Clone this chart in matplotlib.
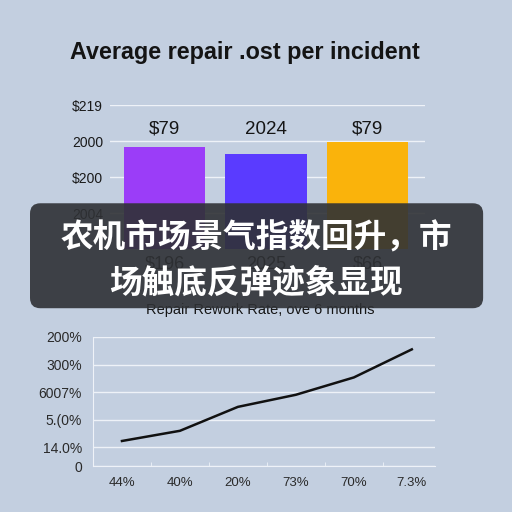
import matplotlib.pyplot as plt
from matplotlib.patches import FancyBboxPatch

# top bar chart
bar_labels = ["$196", "2025", "$66"]
bar_values = [2.83, 2.64, 2.97]
bar_value_text = ["$79", "2024", "$79"]
bar_colors = ["#9b3df8", "#5a3bff", "#fab30b"]
bar_yticks = [1, 2, 3, 4]
bar_yticklabels = ["2004", "$200", "2000", "$219"]

# bottom line chart
line_xlabels = ["44%", "40%", "20%", "73%", "70%", "7.3%"]
line_values = [1.22, 1.59, 2.46, 2.90, 3.53, 4.55]
line_yticks = [0.31, 1, 2, 3, 4, 5]
line_yticklabels = ["0", "14.0%", "5.(0%", "6007%", "300%", "200%"]

bg = "#c3cfe0"
plt.rcParams['font.family'] = ['Liberation Sans', 'DejaVu Sans']

fig = plt.figure(figsize=(5.12, 5.12), dpi=100, facecolor=bg)

fig.text(0.478, 0.897, "Average repair .ost per incident", ha="center", va="center",
         fontsize=16.8, fontweight="bold", color="#141414")

# ---- bar chart
ax1 = fig.add_axes([0.215, 0.5137, 0.615, 0.281], facecolor=bg)
xs = range(len(bar_values))
ax1.bar(xs, bar_values, width=0.8, color=bar_colors, zorder=2)
for x, t in zip(xs, bar_value_text):
    ax1.text(x, 3.33, t, ha="center", va="center", fontsize=13.5, color="#151515")
ax1.set_xlim(-0.537, 2.566)
ax1.set_ylim(0, 4)
ax1.set_yticks(bar_yticks)
ax1.set_yticklabels(bar_yticklabels, fontsize=10, color="#1a1a1a")
ax1.set_xticks(list(xs))
ax1.set_xticklabels(bar_labels, fontsize=13, color="#1a1a1a")
ax1.grid(axis="y", color="#eef2f8", linewidth=1, zorder=0)
ax1.tick_params(length=0, pad=5)
for s in ax1.spines.values():
    s.set_visible(False)

fig.text(0.508, 1 - 310 / 512, "Repair Rework Rate, ove 6 months", ha="center", va="center",
         fontsize=10.5, color="#151515")

# ---- line chart
ax2 = fig.add_axes([0.1816, 0.0898, 0.668, 0.252], facecolor=bg)
ax2.plot(range(len(line_values)), line_values, color="#111111", linewidth=1.8)
ax2.set_xlim(-0.5, 5.4)
ax2.set_ylim(0.31, 5)
ax2.set_yticks(line_yticks)
ax2.set_yticklabels(line_yticklabels, fontsize=10, color="#2a2a2a")
ax2.set_xticks(range(len(line_xlabels)))
ax2.set_xticklabels(line_xlabels, fontsize=9.5, color="#2a2a2a")
ax2.set_xticks([0.5, 1.5, 2.5, 3.5, 4.5], minor=True)
ax2.tick_params(axis="both", which="major", length=0, pad=8)
ax2.tick_params(axis="x", which="minor", direction="in", length=3, color="#eef2f8")
ax2.grid(axis="y", color="#eef2f8", linewidth=1)
for side in ["top", "right"]:
    ax2.spines[side].set_visible(False)
for side in ["left", "bottom"]:
    ax2.spines[side].set_color("#eef2f8")

# ---- caption overlay
box = FancyBboxPatch((0.0586, 0.398), 0.885, 0.205, boxstyle="round,pad=0,rounding_size=0.02",
                     transform=fig.transFigure, facecolor="#2f3135", alpha=0.9,
                     edgecolor="none", zorder=10)
fig.patches.append(box)
cjk = ['Noto Sans CJK SC', 'DejaVu Sans']
fig.text(0.5, 1 - 238 / 512, "农机市场景气指数回升，市", ha="center", va="center",
         fontsize=23.5, fontweight="bold", color="white", family=cjk, zorder=11)
fig.text(0.5, 1 - 283 / 512, "场触底反弹迹象显现", ha="center", va="center",
         fontsize=23.5, fontweight="bold", color="white", family=cjk, zorder=11)

fig.savefig("out.png", dpi=100, facecolor=bg)
